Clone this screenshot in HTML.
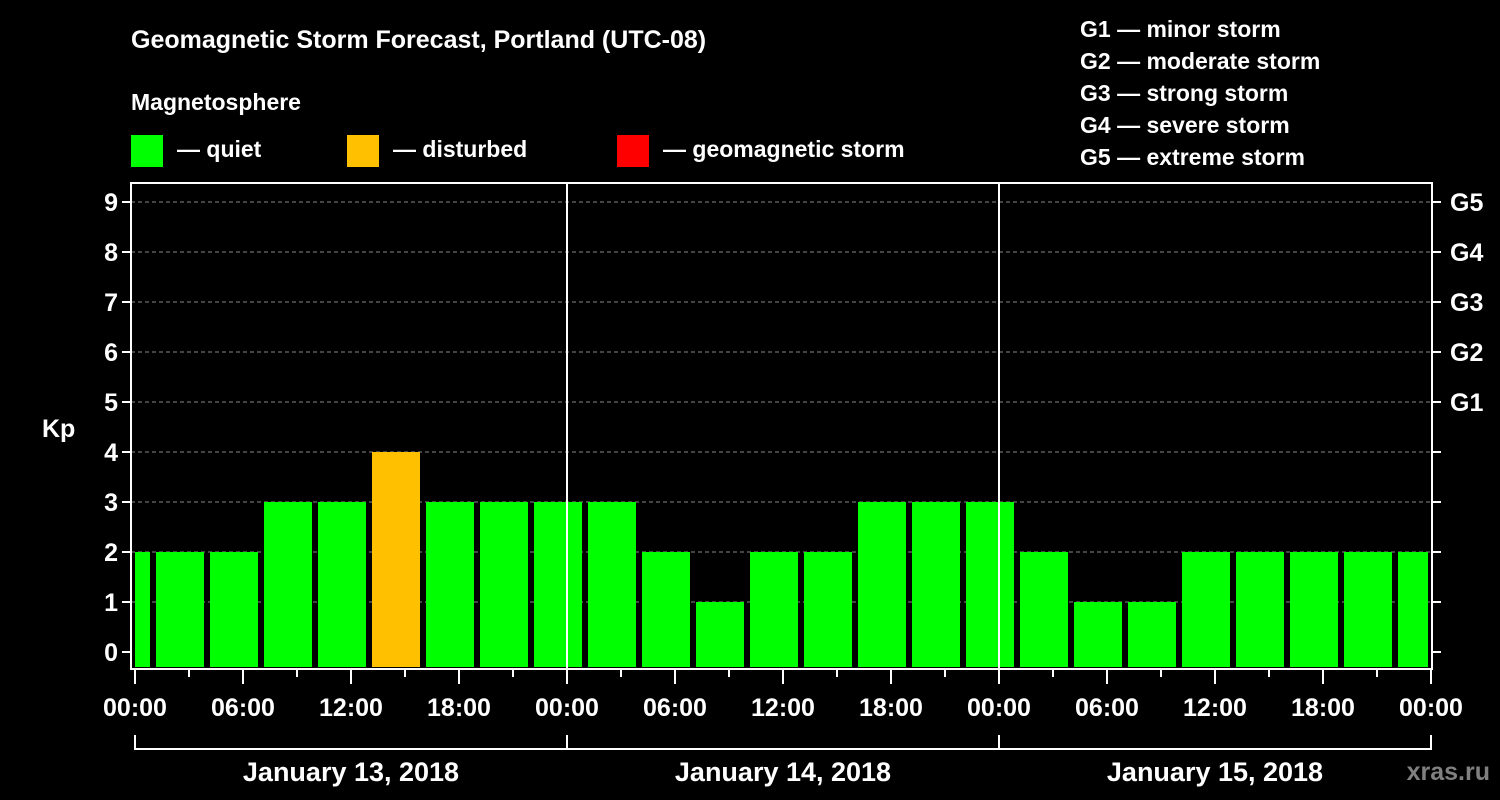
<!DOCTYPE html>
<html><head><meta charset="utf-8"><style>
html,body{margin:0;padding:0;background:#000;}
svg{display:block;font-family:"Liberation Sans",Arial,sans-serif;font-weight:bold;}
</style></head><body>
<svg id="chart" width="1500" height="800" viewBox="0 0 1500 800">
<text x="131" y="48" fill="#fff" font-size="25">Geomagnetic Storm Forecast, Portland (UTC-08)</text>
<text x="131" y="110" fill="#fff" font-size="23">Magnetosphere</text>
<g><rect x="131" y="135" width="32" height="32" fill="#00ff00"/><text x="177" y="157" fill="#fff" font-size="23">— quiet</text></g>
<g><rect x="347" y="135" width="32" height="32" fill="#ffc000"/><text x="393" y="157" fill="#fff" font-size="23">— disturbed</text></g>
<g><rect x="617" y="135" width="32" height="32" fill="#ff0000"/><text x="663" y="157" fill="#fff" font-size="23">— geomagnetic storm</text></g>
<g fill="#fff" font-size="23">
<text x="1080" y="37">G1 — minor storm</text>
<text x="1080" y="69">G2 — moderate storm</text>
<text x="1080" y="101">G3 — strong storm</text>
<text x="1080" y="133">G4 — severe storm</text>
<text x="1080" y="165">G5 — extreme storm</text>
</g>
<text x="42" y="437" fill="#fff" font-size="25">Kp</text>
<text x="1490" y="780" fill="#808080" font-size="25" text-anchor="end">xras.ru</text>
<g id="grid"></g><g id="bars"></g><g id="axes"></g>
</svg>
<script>
const kpValues=[2,2,2,3,3,4,3,3,3,3,2,1,2,2,3,3,3,2,1,1,2,2,2,2,2];
const binStartHour=-2;
const binHours=3;
const yTicks=[0,1,2,3,4,5,6,7,8,9];
const gLabels=["G1","G2","G3","G4","G5"];
const gLevels=[5,6,7,8,9];
const timeLabels=["00:00","06:00","12:00","18:00","00:00","06:00","12:00","18:00","00:00","06:00","12:00","18:00","00:00"];
const dayLabels=["January 13, 2018","January 14, 2018","January 15, 2018"];
const NS="http://www.w3.org/2000/svg";
const L=131,R=1432,T=183,B=669,X0=135,PXH=18;
const xs=h=>X0+h*PXH;
const ys=v=>652-v*50;
function mk(tag,attrs,parent,text){const e=document.createElementNS(NS,tag);for(const k in attrs)e.setAttribute(k,attrs[k]);if(text!==undefined)e.textContent=text;parent.appendChild(e);return e;}
const grid=document.getElementById('grid'),bars=document.getElementById('bars'),axes=document.getElementById('axes');
yTicks.forEach(v=>{if(v>0){const g=mk('line',{x1:L,x2:R,y1:ys(v),y2:ys(v),stroke:'#888','stroke-dasharray':'4,3','stroke-width':1},grid);

}});
kpValues.forEach((v,i)=>{
let h0=binStartHour+i*binHours,h1=h0+binHours;
let x0=Math.max(xs(h0)+3,X0),x1=Math.min(xs(h1)-3,R-4);
const r=mk('rect',{x:x0,y:ys(v),width:x1-x0,height:B-2-ys(v),fill:v>=5?'#ff0000':(v>=4?'#ffc000':'#00ff00')},bars);


});
const frame=mk('rect',{x:L,y:T,width:R-L,height:B-T,fill:'none',stroke:'#fff','stroke-width':2},axes);


[24,48].forEach(h=>{const d=mk('line',{x1:xs(h),x2:xs(h),y1:T,y2:B,stroke:'#fff','stroke-width':2},axes);

});
yTicks.forEach(v=>{
mk('line',{x1:L-9,x2:L,y1:ys(v),y2:ys(v),stroke:'#fff','stroke-width':2},axes);
mk('line',{x1:R,x2:R+9,y1:ys(v),y2:ys(v),stroke:'#fff','stroke-width':2},axes);
const t=mk('text',{x:L-13,y:ys(v)+9,fill:'#fff','font-size':25,'text-anchor':'end'},axes,String(v));


});
gLabels.forEach((g,i)=>{const t=mk('text',{x:1450,y:ys(gLevels[i])+9,fill:'#fff','font-size':25},axes,g);

});
for(let h=0;h<=72;h+=3){mk('line',{x1:xs(h),x2:xs(h),y1:B,y2:B+(h%6===0?15:8),stroke:'#fff','stroke-width':2},axes);}
timeLabels.forEach((s,i)=>{const t=mk('text',{x:xs(i*6),y:716,fill:'#fff','font-size':25,'text-anchor':'middle'},axes,s);

});
dayLabels.forEach((s,i)=>{
const a=xs(i*24),b=xs(i*24+24);
mk('path',{d:`M${a} 735V749H${b}V735`,stroke:'#fff','stroke-width':2,fill:'none'},axes);
const t=mk('text',{x:(a+b)/2,y:781,fill:'#fff','font-size':27,'text-anchor':'middle'},axes,s);


});
</script>
</body></html>
